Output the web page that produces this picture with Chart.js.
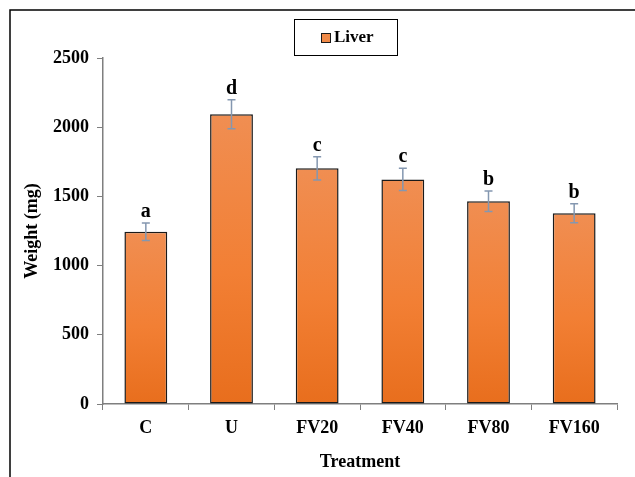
<!DOCTYPE html>
<html>
<head>
<meta charset="utf-8">
<script src="https://cdn.jsdelivr.net/npm/chart.js@4"></script>
<style>
    html, body { margin: 0; padding: 0; background: #ffffff; }
    #wrap { width: 635px; height: 477px; position: relative; }
</style>
</head>
<body>
<div id="wrap"><canvas id="liverChart"></canvas></div>
<script>
// --- DATA ---
const treatments = ['C', 'U', 'FV20', 'FV40', 'FV80', 'FV160'];
const liverWeight = [1245, 2093, 1703, 1623, 1465, 1378];
const liverError = [63, 105, 84, 81, 74, 69];
const groupLetters = ['a', 'd', 'c', 'c', 'b', 'b'];
const yTicks = [0, 500, 1000, 1500, 2000, 2500];

const FONT = "'Liberation Serif', 'Times New Roman', serif";
const AXIS_GRAY = '#7f7f7f';

// Per-bar vertical gradient, lighter at the top
function barGradient(context) {
    const chart = context.chart;
    const yScale = chart.scales.y;
    if (!chart.chartArea || !yScale) return '#ee8440';
    const top = yScale.getPixelForValue(context.raw);
    const base = yScale.getPixelForValue(0);
    const g = chart.ctx.createLinearGradient(0, top, 0, base);
    g.addColorStop(0, '#f08e52');
    g.addColorStop(0.55, '#f27f34');
    g.addColorStop(1, '#e86e1d');
    return g;
}

// Error bars + significance letters
const errorBarPlugin = {
    id: 'errorBars',
    afterDatasetsDraw(chart) {
        const ctx = chart.ctx;
        const meta = chart.getDatasetMeta(0);
        const y = chart.scales.y;
        ctx.save();
        meta.data.forEach((bar, i) => {
            const hi = y.getPixelForValue(liverWeight[i] + liverError[i]);
            const lo = y.getPixelForValue(liverWeight[i] - liverError[i]);
            ctx.strokeStyle = '#8497b0';
            ctx.lineWidth = 1.5;
            ctx.beginPath();
            ctx.moveTo(bar.x, hi); ctx.lineTo(bar.x, lo);
            ctx.moveTo(bar.x - 4, hi); ctx.lineTo(bar.x + 4, hi);
            ctx.moveTo(bar.x - 4, lo); ctx.lineTo(bar.x + 4, lo);
            ctx.stroke();

            ctx.fillStyle = '#000000';
            ctx.font = 'bold 20px ' + FONT;
            ctx.textAlign = 'center';
            ctx.textBaseline = 'alphabetic';
            ctx.fillText(groupLetters[i], bar.x, hi - 6);
        });
        ctx.restore();
    }
};

// Outer frame and boxed legend
const framePlugin = {
    id: 'frame',
    afterDraw(chart) {
        const ctx = chart.ctx;
        ctx.save();
        ctx.strokeStyle = '#000000';
        ctx.lineWidth = 1.5;
        ctx.strokeRect(10, 10, 700, 700);

        // legend box
        ctx.lineWidth = 1;
        ctx.strokeRect(294.5, 19.5, 103, 36);
        ctx.fillStyle = '#f08a48';
        ctx.fillRect(321, 33, 9, 9);
        ctx.strokeStyle = '#1a1a1a';
        ctx.strokeRect(321.5, 33.5, 9, 9);
        ctx.fillStyle = '#000000';
        ctx.font = 'bold 17px ' + FONT;
        ctx.textAlign = 'left';
        ctx.textBaseline = 'middle';
        ctx.fillText(chart.data.datasets[0].label, 334, 38);
        ctx.restore();
    }
};

new Chart(document.getElementById('liverChart'), {
    type: 'bar',
    data: {
        labels: treatments,
        datasets: [{
            label: 'Liver',
            data: liverWeight,
            backgroundColor: barGradient,
            borderColor: '#1a1a1a',
            borderWidth: 1.5,
            borderSkipped: false,
            barPercentage: 0.5,
            categoryPercentage: 1.0
        }]
    },
    options: {
        responsive: true,
        maintainAspectRatio: false,
        animation: false,
        layout: { padding: { left: 10, top: 58, right: 18, bottom: 0 } },
        plugins: { legend: { display: false }, tooltip: { enabled: false } },
        scales: {
            x: {
                grid: { display: true, drawOnChartArea: false, offset: true, tickLength: 6, color: AXIS_GRAY },
                border: { color: AXIS_GRAY, width: 1.5 },
                ticks: { color: '#000', padding: 8, font: { family: FONT, size: 18, weight: 'bold' } },
                title: {
                    display: true, text: 'Treatment', color: '#000',
                    padding: { top: 0, bottom: 4 },
                    font: { family: FONT, size: 18, weight: 'bold' }
                },
                afterFit: s => { s.height = 73; }
            },
            y: {
                min: 0,
                max: 2500,
                afterBuildTicks: s => { s.ticks = yTicks.map(v => ({ value: v })); },
                grid: { display: true, drawOnChartArea: false, tickLength: 6, color: AXIS_GRAY },
                border: { color: AXIS_GRAY, width: 1.5 },
                ticks: {
                    color: '#000', padding: 8,
                    font: { family: FONT, size: 18, weight: 'bold' },
                    callback: value => String(value)
                },
                title: {
                    display: true, text: 'Weight (mg)', color: '#000',
                    padding: { top: 12, bottom: 0 },
                    font: { family: FONT, size: 18, weight: 'bold' }
                },
                afterFit: s => { s.width = 93; }
            }
        }
    },
    plugins: [errorBarPlugin, framePlugin]
});
</script>
</body>
</html>
